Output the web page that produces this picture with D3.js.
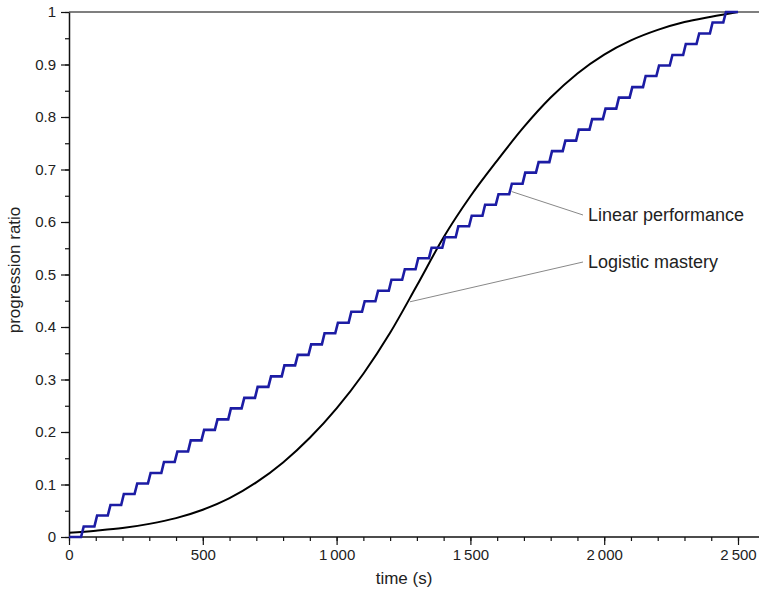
<!DOCTYPE html>
<html>
<head>
<meta charset="utf-8">
<script src="https://cdn.jsdelivr.net/npm/d3@7"></script>
<style>
  body { margin: 0; background: #fff; }
  text { font-family: "Liberation Sans", Arial, sans-serif; fill: #222; }
</style>
</head>
<body>
<script>
var w = 759;
var h = 592;

// logistic mastery curve, read every 100 s
var logTimes = [0, 100, 200, 300, 400, 500, 600, 700, 800, 900, 1000, 1100, 1200,
    1300, 1400, 1500, 1600, 1700, 1800, 1900, 2000, 2100, 2200, 2300, 2400, 2500];
var logValues = [0.008, 0.012, 0.017, 0.025, 0.036, 0.052, 0.074, 0.104, 0.142, 0.189, 0.245, 0.311, 0.389,
    0.479, 0.571, 0.649, 0.717, 0.781, 0.837, 0.883, 0.919, 0.946, 0.966, 0.981, 0.991, 1.0];

// linear performance staircase: level held from each start time
var stepTimes = [0, 50, 100, 150, 200, 250, 300, 350, 400, 450, 500, 550, 600, 650, 700, 750,
    800, 850, 900, 950, 1000, 1050, 1100, 1150, 1200, 1250, 1300, 1350, 1400, 1450, 1500,
    1550, 1600, 1650, 1700, 1750, 1800, 1850, 1900, 1950, 2000, 2050, 2100, 2150, 2200,
    2250, 2300, 2350, 2400, 2450];
var stepLevels = [0, 0.020, 0.041, 0.061, 0.082, 0.102, 0.122, 0.143, 0.163, 0.184, 0.204,
    0.224, 0.245, 0.265, 0.286, 0.306, 0.327, 0.347, 0.367, 0.388, 0.408, 0.429, 0.449,
    0.469, 0.490, 0.510, 0.531, 0.551, 0.571, 0.592, 0.612, 0.633, 0.653, 0.673, 0.694,
    0.714, 0.735, 0.755, 0.776, 0.796, 0.816, 0.837, 0.857, 0.878, 0.898, 0.918, 0.939,
    0.959, 0.980, 1.000];
var stepEnd = 2500;

var xMajor = [0, 500, 1000, 1500, 2000, 2500];
var yMajor = [0, 0.1, 0.2, 0.3, 0.4, 0.5, 0.6, 0.7, 0.8, 0.9, 1];

var labels = [
    {text: "Linear performance", t: 1654, v: 0.658, lx: 583, ly: 215},
    {text: "Logistic mastery", t: 1274, v: 0.448, lx: 583, ly: 262}
];

var x = d3.scaleLinear().domain([0, 2600]).range([69, 69 + 2600 * 0.2676]);
var y = d3.scaleLinear().domain([0, 1]).range([537, 12]);

var svg = d3.select("body")
    .append("svg")
    .attr("width", w)
    .attr("height", h);

// top frame
svg.append("line")
    .attr("x1", x(0)).attr("x2", w)
    .attr("y1", y(1)).attr("y2", y(1))
    .attr("stroke", "#000").attr("stroke-width", 1.2);

function fmtX(d) {
    if (d < 1000) return String(d);
    return Math.floor(d / 1000) + "\u2009" + String(d % 1000).padStart(3, "0");
}
function fmtY(d) {
    if (d === 0) return "0";
    if (d === 1) return "1";
    return d.toFixed(1);
}

// minor ticks
var xAxisMinor = d3.axisBottom(x).tickValues(d3.range(0, 2601, 100)).tickSize(4).tickFormat("");
var yAxisMinor = d3.axisLeft(y).tickValues(d3.range(0, 1.001, 0.05)).tickSize(4).tickFormat("");

svg.append("g").attr("transform", "translate(0," + y(0) + ")").call(xAxisMinor)
    .call(function(g) { g.select(".domain").remove(); });
svg.append("g").attr("transform", "translate(" + x(0) + ",0)").call(yAxisMinor)
    .call(function(g) { g.select(".domain").remove(); });

var xAxis = d3.axisBottom(x).tickValues(xMajor).tickSize(8).tickSizeOuter(0).tickPadding(4).tickFormat(fmtX);
var yAxis = d3.axisLeft(y).tickValues(yMajor).tickSize(8).tickSizeOuter(0).tickPadding(5).tickFormat(fmtY);

var gx = svg.append("g").attr("transform", "translate(0," + y(0) + ")").call(xAxis);
gx.select(".domain").attr("d", "M" + x(0) + ",0H" + w);
var gy = svg.append("g").attr("transform", "translate(" + x(0) + ",0)").call(yAxis);

svg.selectAll(".tick line").attr("stroke", "#111").attr("stroke-width", 1.2);
svg.selectAll(".domain").attr("stroke", "#111").attr("stroke-width", 1.5);
svg.selectAll(".tick text").style("font-size", "15px").style("font-family", "Liberation Sans, Arial, sans-serif").attr("fill", "#222");

// axis titles
svg.append("text")
    .attr("x", 404).attr("y", 584)
    .attr("text-anchor", "middle")
    .style("font-size", "17px")
    .text("time (s)");

svg.append("text")
    .attr("transform", "translate(20,270) rotate(-90)")
    .attr("text-anchor", "middle")
    .style("font-size", "17px")
    .text("progression ratio");

// logistic curve
var logLine = d3.line()
    .x(function(d, i) { return x(logTimes[i]); })
    .y(function(d) { return y(d); })
    .curve(d3.curveMonotoneX);

svg.append("path")
    .datum(logValues)
    .attr("d", logLine)
    .attr("fill", "none")
    .attr("stroke", "#000")
    .attr("stroke-width", 2);

// staircase with slightly slanted risers
var stairPts = [];
stepTimes.forEach(function(t, i) {
    var t0 = i === 0 ? t : t + 5;
    var t1 = i === stepTimes.length - 1 ? stepEnd : stepTimes[i + 1] - 5;
    stairPts.push([t0, stepLevels[i]]);
    stairPts.push([t1, stepLevels[i]]);
});

svg.append("path")
    .datum(stairPts)
    .attr("d", d3.line()
        .x(function(d) { return x(d[0]); })
        .y(function(d) { return y(d[1]); }))
    .attr("fill", "none")
    .attr("stroke", "#1c1ca4")
    .attr("stroke-width", 2.6)
    .attr("stroke-linejoin", "miter");

// annotations
labels.forEach(function(l) {
    svg.append("line")
        .attr("x1", x(l.t)).attr("y1", y(l.v))
        .attr("x2", l.lx).attr("y2", l.ly)
        .attr("stroke", "#888").attr("stroke-width", 1);
    svg.append("text")
        .attr("x", l.lx + 5).attr("y", l.ly + 6)
        .style("font-size", "18px")
        .text(l.text);
});
</script>
</body>
</html>
